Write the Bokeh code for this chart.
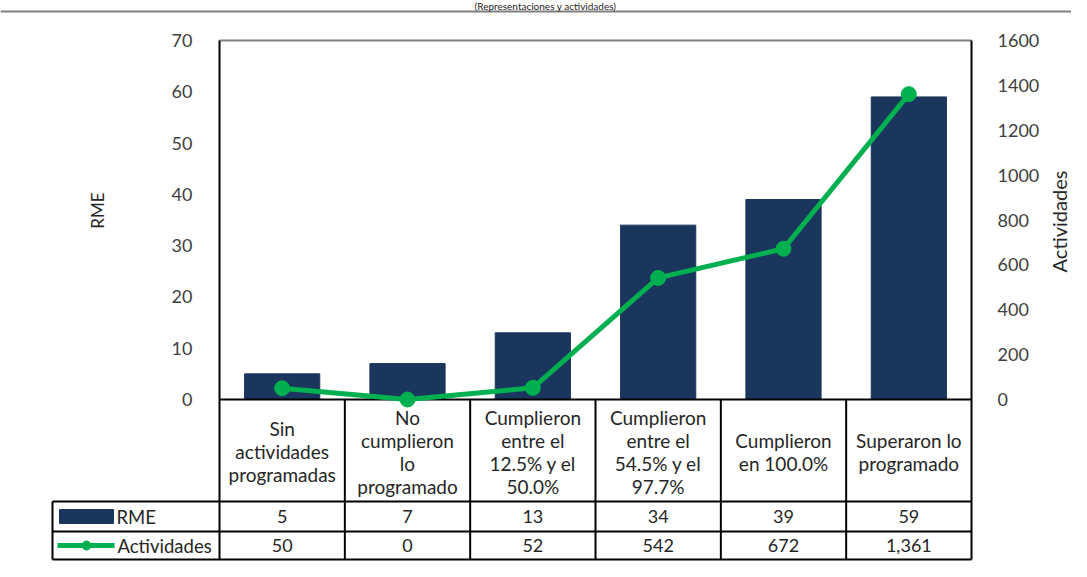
import math
from bokeh.plotting import figure
from bokeh.models import Range1d, LinearAxis, FixedTicker
from bokeh.core.properties import value
from bokeh.embed import file_html
from bokeh.resources import INLINE

# ---------------- data ----------------
categories = [
    "Sin\nactividades\nprogramadas",
    "No\ncumplieron\nlo\nprogramado",
    "Cumplieron\nentre el\n12.5% y el\n50.0%",
    "Cumplieron\nentre el\n54.5% y el\n97.7%",
    "Cumplieron\nen 100.0%",
    "Superaron lo\nprogramado",
]
rme = [5, 7, 13, 34, 39, 59]
actividades = [50, 0, 52, 542, 672, 1361]
rme_labels = ["5", "7", "13", "34", "39", "59"]
act_labels = ["50", "0", "52", "542", "672", "1,361"]
left_ticks = [0, 10, 20, 30, 40, 50, 60, 70]
right_ticks = [0, 200, 400, 600, 800, 1000, 1200, 1400, 1600]
title_text = "(Representaciones y actividades)"
series_names = ["RME", "Actividades"]
left_title = "RME"
right_title = "Actividades"

# ---------------- layout (picture px) ----------------
W, H = 1071, 561
X0, X1 = 219, 971          # plot area left/right
YT, Y0 = 40, 399           # plot area top / zero line
ROW1, ROW2, ROW3 = 501, 531, 559   # table row bottoms
LEG_L = 52                 # legend column left
XU = (X1 - X0) / 6.0
YU = (Y0 - YT) / 70.0
RU = (Y0 - YT) / 1600.0

def dx(px):
    return (px - X0) / XU

def dy(py):
    return (Y0 - py) / YU

NAVY = "#1B365D"
GREEN = "#00B050"
FONT = "Lato"
TXT = "#262626"
TICK = "#404040"

p = figure(width=W, height=H, output_backend="svg", toolbar_location=None,
           x_range=Range1d(dx(0), dx(W)),
           y_range=Range1d(dy(H), dy(0)),
           x_axis_location=None, y_axis_location="left",
           min_border=0, min_border_left=0, min_border_right=0,
           min_border_top=0, min_border_bottom=0)
p.extra_y_ranges = {"act": Range1d(-(H - Y0) / RU, Y0 / RU)}
p.outline_line_color = None
p.grid.visible = False
p.background_fill_color = "white"
p.border_fill_color = "white"

# left axis
ya = p.yaxis[0]
ya.fixed_location = 0
ya.ticker = FixedTicker(ticks=left_ticks)
ya.axis_line_color = None
ya.major_tick_line_color = None
ya.minor_tick_line_color = None
ya.major_label_standoff = 21
ya.major_label_text_font = FONT
ya.major_label_text_font_size = "18px"
ya.major_label_text_color = TICK

# right axis
ra = LinearAxis(y_range_name="act", ticker=FixedTicker(ticks=right_ticks), fixed_location=6)
ra.axis_line_color = None
ra.major_tick_line_color = None
ra.minor_tick_line_color = None
ra.major_label_standoff = 20
ra.major_label_text_font = FONT
ra.major_label_text_font_size = "18px"
ra.major_label_text_color = TICK
p.add_layout(ra, "right")

# axis titles
p.text(x=[dx(97)], y=[dy(210)], text=[left_title], angle=math.pi / 2,
       text_align="center", text_baseline="middle", text_font=value(FONT),
       text_font_size="17px", text_color=TXT)
p.text(x=[dx(1058)], y=[dy(221)], text=[right_title], angle=math.pi / 2,
       text_align="center", text_baseline="middle", text_font=value(FONT),
       text_font_size="20px", text_color=TXT)

xs = [i + 0.5 for i in range(len(rme))]

# outer top border + title
p.segment(x0=[dx(0)], y0=[dy(11)], x1=[dx(W)], y1=[dy(11)], line_color="#7f7f7f", line_width=2)
p.text(x=[dx(545)], y=[dy(-1)], text=[title_text], text_align="center", text_baseline="top",
       text_font=value(FONT), text_font_size="10px", text_color=TXT)

# plot top border (grey)
p.segment(x0=[0], y0=[70], x1=[6], y1=[70], line_color="#7f7f7f", line_width=2)

# bars
p.vbar(x=xs, top=rme, bottom=0, width=0.6, fill_color=NAVY, line_color=NAVY)

# table lines
h_y = [0, dy(ROW1), dy(ROW2), dy(ROW3)]
h_x0 = [0, dx(LEG_L), dx(LEG_L), dx(LEG_L)]
v_x = [0, 1, 2, 3, 4, 5, 6, dx(LEG_L)]
v_top = [70, 0, 0, 0, 0, 0, 70, dy(ROW1)]
p.segment(x0=h_x0, y0=h_y, x1=[6] * 4, y1=h_y, line_color="black", line_width=2)
p.segment(x0=v_x, y0=v_top, x1=v_x, y1=[dy(ROW3)] * len(v_x), line_color="black", line_width=2)

# line series
p.line(x=xs, y=actividades, y_range_name="act", line_color=GREEN, line_width=5)
p.scatter(x=xs, y=actividades, y_range_name="act", size=15, fill_color=GREEN, line_color=GREEN)

# header text
p.text(x=xs, y=[dy((Y0 + ROW1) / 2 + 1)] * 6, text=categories, text_align="center",
       text_baseline="middle", text_font=value(FONT), text_font_size="19px",
       text_line_height=1.0, text_color=TXT)
# values
p.text(x=xs, y=[dy((ROW1 + ROW2) / 2)] * 6, text=rme_labels, text_align="center",
       text_baseline="middle", text_font=value(FONT), text_font_size="18px", text_color=TXT)
p.text(x=xs, y=[dy((ROW2 + ROW3) / 2)] * 6, text=act_labels, text_align="center",
       text_baseline="middle", text_font=value(FONT), text_font_size="18px", text_color=TXT)

# legend keys
p.quad(left=[dx(59)], right=[dx(113)], bottom=[dy(523)], top=[dy(509)], fill_color=NAVY, line_color=NAVY)
p.segment(x0=[dx(57)], y0=[dy(545)], x1=[dx(114)], y1=[dy(545)], line_color=GREEN, line_width=5)
p.scatter(x=[dx(86)], y=[dy(545)], size=9, fill_color=GREEN, line_color=GREEN)
p.text(x=[dx(116), dx(117)], y=[dy(516), dy(545)], text=series_names, text_align="left",
       text_baseline="middle", text_font=value(FONT), text_font_size="18.5px", text_color=TXT)

open("out.html", "w").write(file_html(p, INLINE))
